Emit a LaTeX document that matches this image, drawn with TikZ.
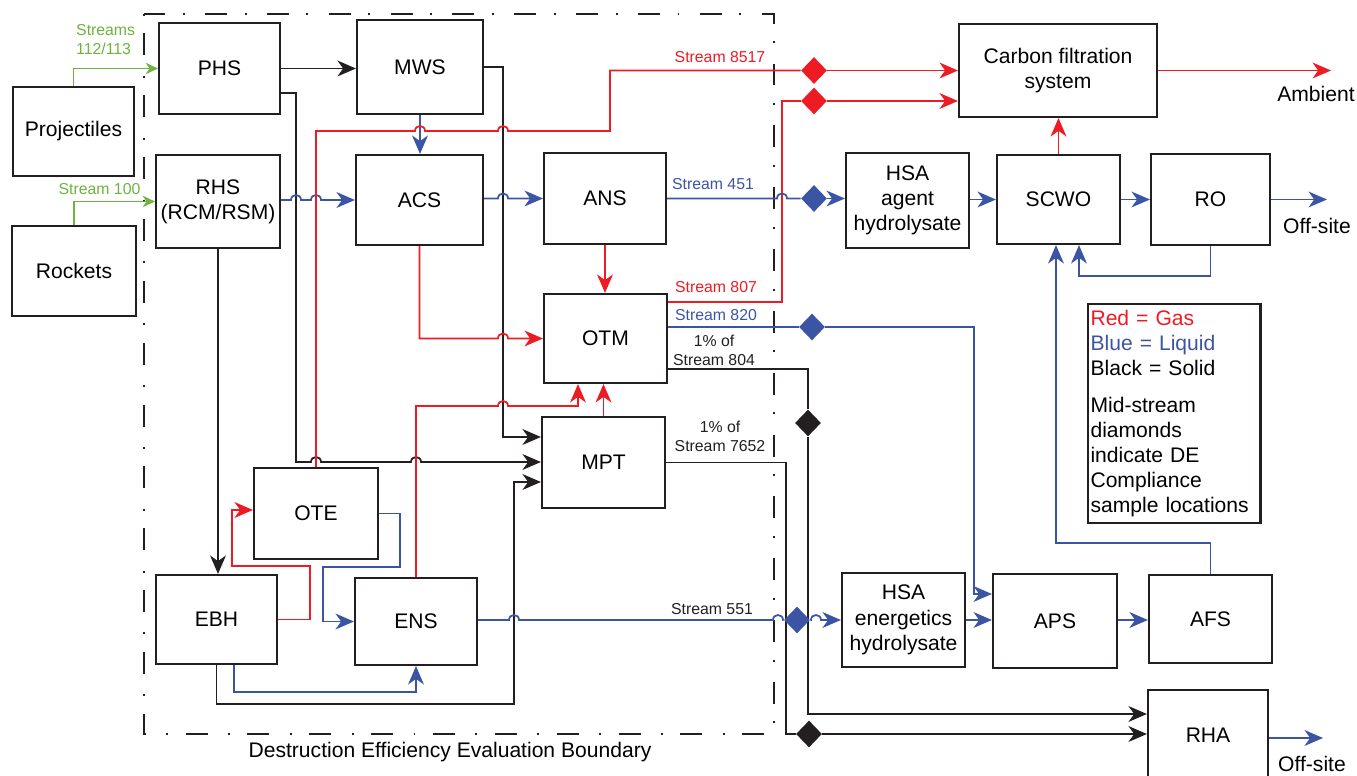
\documentclass[tikz,border=0pt]{standalone}
\usepackage{fontspec}
\setmainfont{Liberation Sans}
\usepackage{tikz}
\usetikzlibrary{arrows.meta,shapes.geometric,calc,positioning}
\definecolor{gasred}{RGB}{237,28,36}
\definecolor{liqblue}{RGB}{59,85,164}
\definecolor{feedgreen}{RGB}{109,179,63}
\definecolor{solidblk}{RGB}{35,31,32}
\tikzset{
  box/.style 2 args={draw=solidblk, line width=1.2pt, minimum width=#1*0.02cm, minimum height=#2*0.02cm, inner sep=0pt, align=center, font=\fontsize{12}{14.4}\selectfont},
  gas/.style={draw=gasred, line width=1pt},
  liquid/.style={draw=liqblue, line width=1pt},
  solidflow/.style={draw=solidblk, line width=1pt},
  feed/.style={draw=feedgreen, line width=0.8pt, -{Stealth[length=7pt,width=6.5pt,inset=2.2pt]}},
  gem/.style={diamond, fill=#1, inner sep=0pt, minimum width=26*0.02cm, minimum height=27*0.02cm},
  hop/.style={out=90, in=90, looseness=1.7},
  tag/.style={font=\fontsize{9}{10.8}\selectfont, align=center, text=#1},
  endtext/.style={font=\fontsize{12}{14.4}\selectfont},
  boundary/.style={draw=solidblk, line width=1.5pt, dash pattern=on 1.1pt off 10pt on 12.5pt off 11.6pt}
}
\begin{document}
\begin{tikzpicture}[x=0.02cm, y=-0.02cm, >={Stealth[length=10.5pt,width=9pt,inset=3.2pt]}]
\useasboundingbox (0,0) rectangle (1357,776);
\clip (0,0) rectangle (1357,776);

\draw[boundary] (144,14) rectangle (774,734);
\node[endtext] (deeb) at (450,752) {Destruction Efficiency Evaluation Boundary};

\node[box={121}{89}] (proj) at (73.5,131.5) {Projectiles};
\node[box={124}{90}] (rock) at (74,271) {Rockets};
\node[box={121}{91}] (phs) at (219.5,68.5) {PHS};
\node[box={126}{94}] (mws) at (420,67) {MWS};
\node[box={124}{93}] (rhs) at (218,201.5) {RHS\\(RCM/RSM)};
\node[box={127}{90}] (acs) at (419.5,200) {ACS};
\node[box={122}{91}] (ans) at (605,198.5) {ANS};
\node[box={123}{89}] (otm) at (605.5,338.5) {OTM};
\node[box={123}{91}] (mpt) at (603.5,462.5) {MPT};
\node[box={124}{91}] (ote) at (316,513.5) {OTE};
\node[box={121}{89}] (ebh) at (216.5,619.5) {EBH};
\node[box={122}{87}] (ens) at (416,621.5) {ENS};
\node[box={198}{93}] (cfs) at (1058,70.5) {Carbon filtration\\system};
\node[box={123}{95}] (hsaa) at (907.5,200.5) {HSA\\agent\\hydrolysate};
\node[box={123}{89}] (scwo) at (1058.5,199.5) {SCWO};
\node[box={119}{91}] (ro) at (1210.5,199.5) {RO};
\node[box={123}{94}] (hsae) at (903.5,620) {HSA\\energetics\\hydrolysate};
\node[box={124}{94}] (aps) at (1055,621) {APS};
\node[box={123}{88}] (afs) at (1210.5,619) {AFS};
\node[box={120}{90}] (rha) at (1208,735) {RHA};

\coordinate (ambout) at (1331,70.5);
\coordinate (roout) at (1327,199.5);
\coordinate (rhaout) at (1323,738);

\node[gem=gasred] (d8517) at (814,70.5) {};
\node[gem=gasred] (d807) at (814,101) {};
\node[gem=liqblue] (d451) at (814,198.5) {};
\node[gem=liqblue] (d820) at (812,327) {};
\node[gem=solidblk] (d804) at (808,423) {};
\node[gem=solidblk] (d7652) at (809,734) {};

\draw[feed] (proj.north) |- (phs.west);
\draw[feed] (rock.north) |- (rhs.west);
\node[tag=feedgreen, align=left, anchor=west] (s112) at (70,40) {Streams\\112/113};
\node[tag=feedgreen] (s100) at (99.5,189) {Stream 100};

\draw[solidflow,->] (phs.east) -- (mws.west |- phs.east);
\draw[solidflow,->] (phs.east |- 0,93) -| (296,462) -- (311,462) to[hop] (321,462) -- (411,462) to[hop] (421,462) -- (mpt.west |- 0,462);
\draw[solidflow,->] (mws.east) -| (503,437) -- (mpt.west |- 0,437);
\draw[liquid,->] (mws.south) -- (mws.south |- acs.north);
\draw[liquid,->] (rhs.east |- acs.west) -- (291,200) to[hop] (301,200) -- (311,200) to[hop] (321,200) -- (acs.west);
\draw[liquid,->] (acs.east |- ans.west) -- (498,198.5) to[hop] (508,198.5) -- (ans.west);
\draw[gas,->] (ans.south) -- (ans.south |- otm.north);
\draw[gas,->] (acs.south) |- (498,338.5) to[hop] (508,338.5) -- (otm.west);
\draw[solidflow,->] (rhs.south) -- (rhs.south |- ebh.north);
\draw[gas,->] (ebh.east) -| (310,566) -| (232,510) -- (ote.west |- 0,510);
\draw[liquid,->] (ote.east) -| (400,567) -- (323,567) |- (ens.west);
\draw[liquid,->] (ebh.south -| 234,0) |- (ens.south |- 0,692) -- (ens.south);
\draw[solidflow,->] (ebh.south) |- (514,704) -- (514,482) -- (mpt.west |- 0,482);
\draw[gas,->] (ens.north) |- (498,406) to[hop] (508,406) -| (otm.south -| 578,0);
\draw[gas,->] (mpt.north) -- (mpt.north |- otm.south);

\draw[gas] (ote.north) |- (415,131) to[hop] (425,131) -- (498,131) to[hop] (508,131) -- (610,131) |- (d8517.west);
\draw[gas,->] (d8517.east) -- (cfs.west |- d8517);
\node[tag=gasred] (s8517) at (720,57) {Stream 8517};
\draw[gas] (otm.east |- 0,302) -| (782,101) -- (d807.west);
\draw[gas,->] (d807.east) -- (cfs.west |- d807);
\node[tag=gasred] (s807) at (716,287) {Stream 807};
\draw[liquid] (ans.east) -- (777,198.5) to[hop] (787,198.5) -- (d451.west);
\draw[liquid,->] (d451.east) -- (hsaa.west |- d451);
\node[tag=liqblue] (s451) at (713,184) {Stream 451};
\draw[liquid] (otm.east |- 0,327) -- (d820.west);
\draw[liquid,->] (d820.east) -| (974,594) -- (aps.west |- 0,594);
\node[tag=liqblue] (s820) at (716,315) {Stream 820};
\draw[solidflow] (otm.east |- 0,369) -| (d804.north);
\draw[solidflow,->] (d804.south) |- (rha.west |- 0,714);
\node[tag=solidblk] (s804) at (714,350) {1\% of\\Stream 804};
\draw[solidflow] (mpt.east) -| (786,734) -- (d7652.west);
\draw[solidflow,->] (d7652.east) -- (rha.west |- d7652);
\node[tag=solidblk] (s7652) at (720,436) {1\% of\\Stream 7652};

\node[gem=liqblue] (d551) at (797,620) {};
\draw[liquid] (ens.east |- 0,620) -- (509,620) to[hop] (519,620) -- (773,620) to[hop] (783,620) -- (d551.west);
\draw[liquid,->] (d551.east) -- (811,620) to[hop] (821,620) -- (hsae.west |- d551);
\node[tag=solidblk] (s551) at (712,609) {Stream 551};

\draw[liquid,->] (hsaa.east |- scwo.west) -- (scwo.west);
\draw[liquid,->] (scwo.east) -- (ro.west);
\draw[liquid,->] (ro.east) -- (roout);
\node[endtext] (off1) at (1317,226) {Off-site};
\draw[gas,->] (cfs.east) -- (ambout);
\node[endtext] (amb) at (1316,94) {Ambient};
\draw[gas,->] (scwo.north) -- (scwo.north |- cfs.south);
\draw[liquid,->] (ro.south) |- (1079,276) -- (scwo.south -| 1079,0);
\draw[liquid,->] (afs.north) |- (1056,543) -- (scwo.south -| 1056,0);
\draw[liquid,->] (hsae.east |- 0,620) -- (aps.west |- 0,620);
\draw[liquid,->] (aps.east |- 0,620) -- (afs.west |- 0,620);
\draw[liquid,->] (rha.east |- 0,738) -- (rhaout);
\node[endtext] (off2) at (1312,764) {Off-site};

\node[draw=solidblk, line width=1.2pt, text width=95pt, inner xsep=1.7pt, minimum height=219*0.02cm, align=left, font=\fontsize{12}{14.2}\selectfont] (key) at (1174,413.5) {\textcolor{gasred}{Red = Gas}\\\textcolor{liqblue}{Blue = Liquid}\\Black = Solid\\[6.8pt]Mid-stream\\diamonds\\indicate DE\\Compliance\\sample locations};
\end{tikzpicture}
\end{document}
